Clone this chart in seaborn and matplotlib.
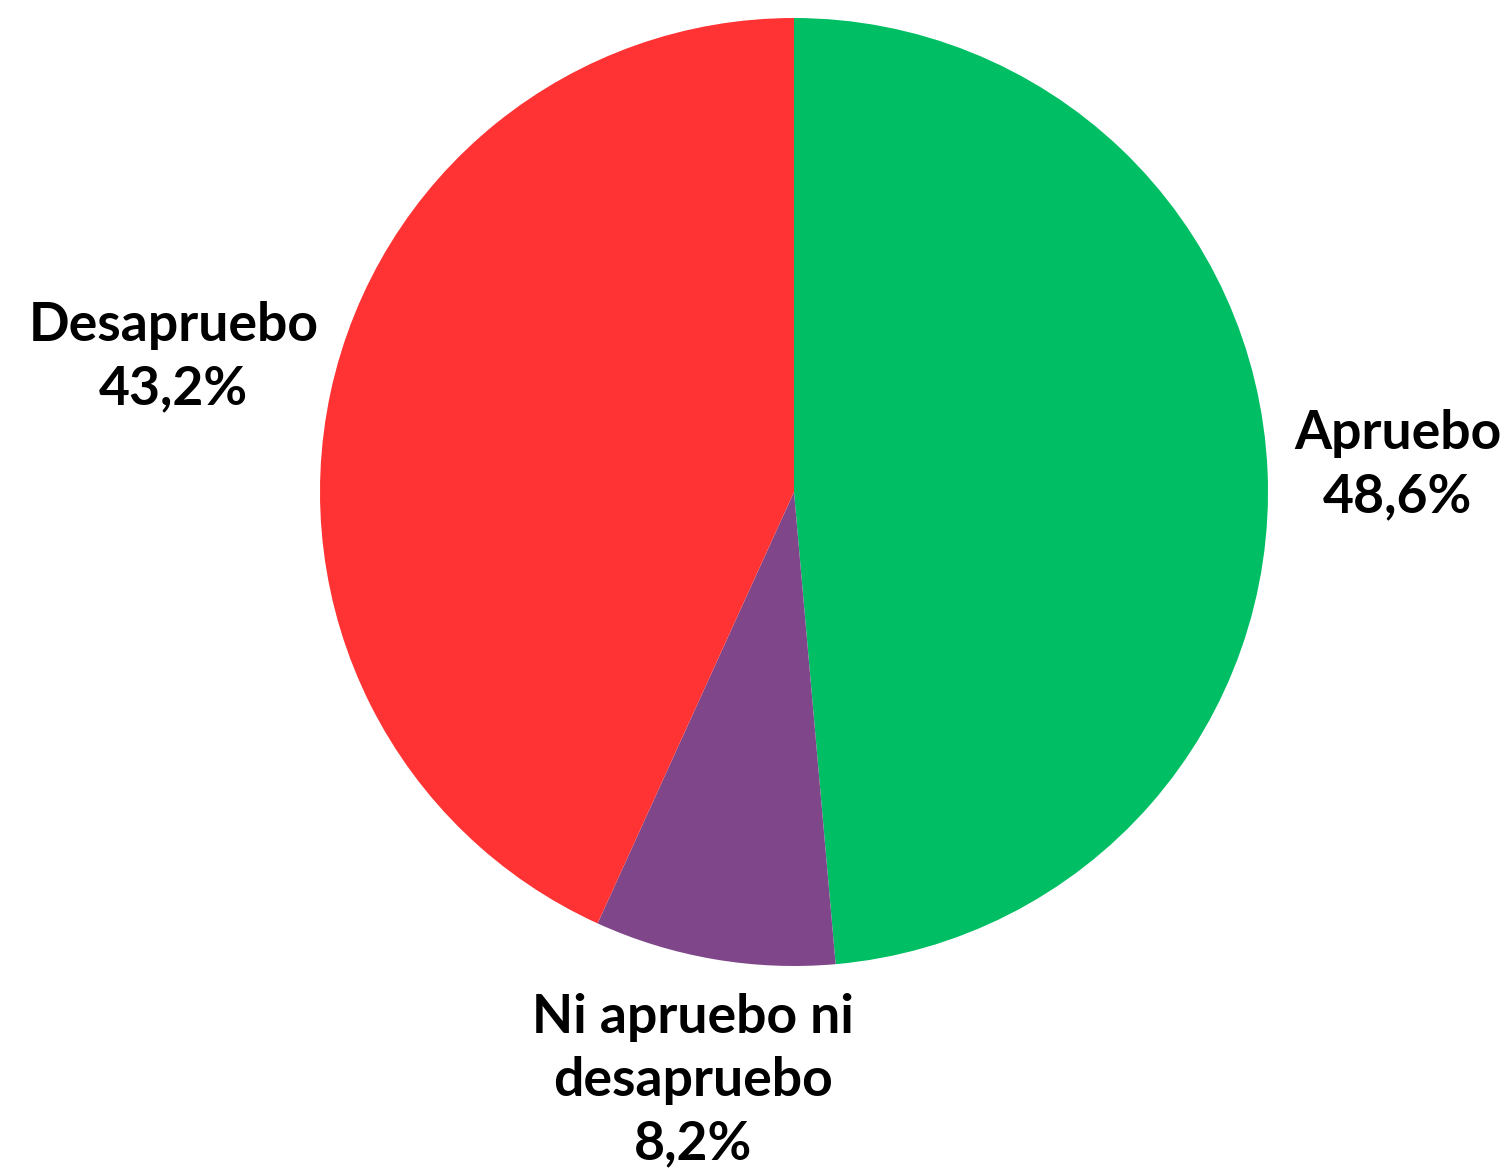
import numpy as np
import matplotlib
matplotlib.use("Agg")
import matplotlib.pyplot as plt
import seaborn as sns

# ===================== DATA =====================
categories = ["Apruebo", "Ni apruebo ni\ndesapruebo", "Desapruebo"]
values = [48.6, 8.2, 43.2]
value_labels = ["48,6%", "8,2%", "43,2%"]
colors = ["#00BE64", "#7F4689", "#FF3333"]

# ===================== STYLE =====================
sns.set_style("white")
plt.rcParams['font.family'] = ['Lato', 'DejaVu Sans']

W, H = 1507, 1172
fig = plt.figure(figsize=(W / 100, H / 100), dpi=100)
cx, cy, r = 794, 492, 474
ax = fig.add_axes([(cx - r) / W, (H - cy - r) / H, 2 * r / W, 2 * r / H])

wedges, _ = ax.pie(values, colors=colors, startangle=90, counterclock=False,
                   wedgeprops=dict(linewidth=0))
ax.set_xlim(-1, 1)
ax.set_ylim(-1, 1)
ax.set_aspect("equal")
ax.axis("off")

# label distance per slice (relative to radius)
dists = [1.275, 1.26, 1.34]
for w, cat, lab, d in zip(wedges, categories, value_labels, dists):
    ang = np.deg2rad((w.theta1 + w.theta2) / 2)
    x, y = d * np.cos(ang), d * np.sin(ang)
    ax.text(x, y, f"{cat}\n{lab}", ha="center", va="center",
            fontsize=38.5, fontweight="bold", linespacing=1.36, color="black")

fig.savefig("out.png", dpi=100)
